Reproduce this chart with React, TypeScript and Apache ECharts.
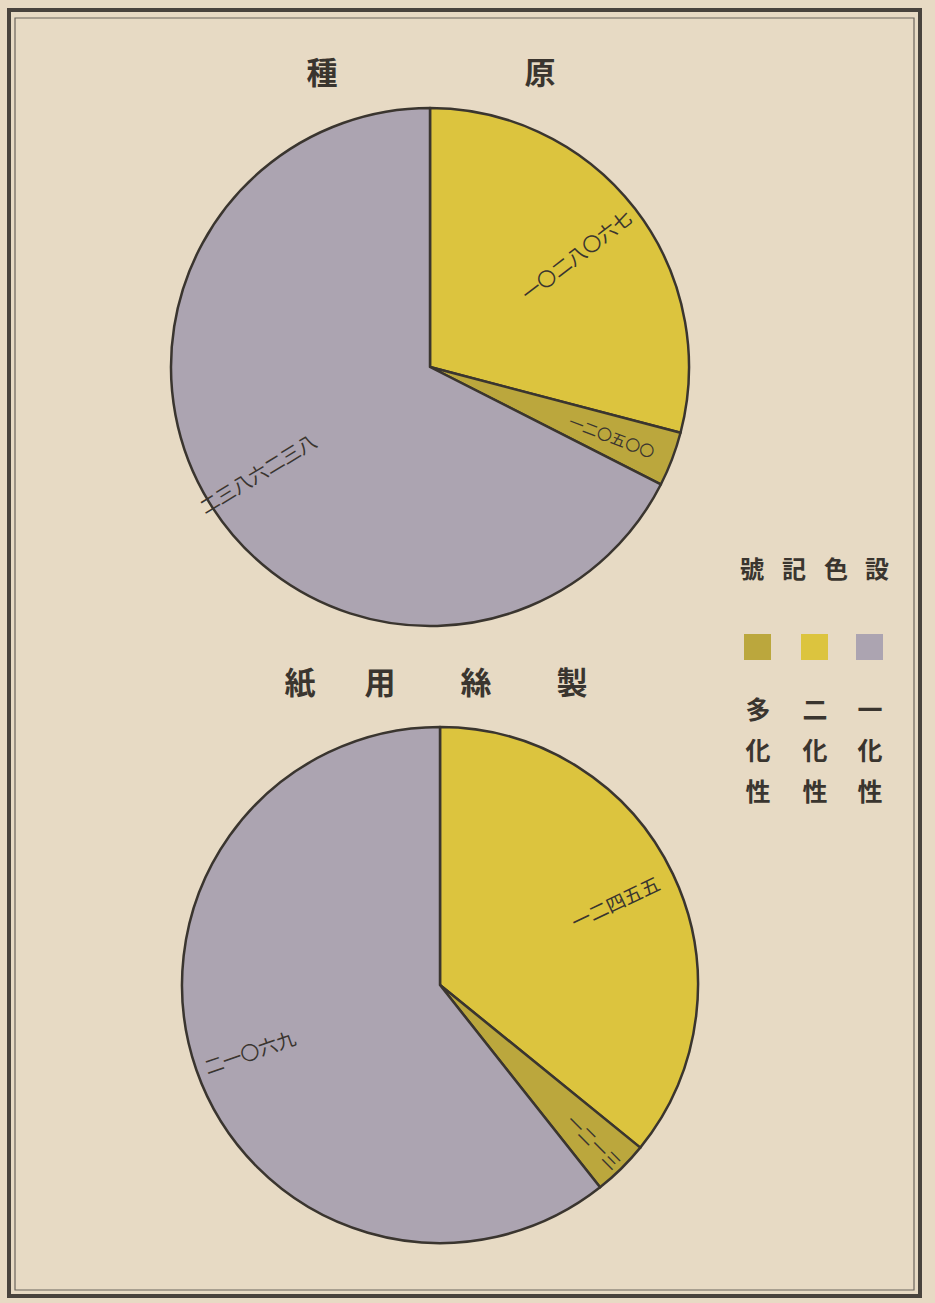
import React, { useEffect, useRef } from "react";
import * as echarts from "echarts";

// Series order: 二化性 (yellow), 多化性 (olive), 一化性 (grey) — clockwise from 12 o'clock
const categories = ["二化性", "多化性", "一化性"];
const topValues = [1028067, 120500, 2386238]; // 原種
const bottomValues = [12455, 1213, 21069]; // 製絲用紙
const topTitle = ["種", "原"];
const bottomTitle = ["紙", "用", "絲", "製"];
const legendTitle = ["號", "記", "色", "設"];
const legendCols = ["多化性", "二化性", "一化性"];

const PAPER = "#e7dac4";
const INK = "#3a352f";
const COLORS = ["#dcc43e", "#bba73d", "#aca4b1"];
const LEGEND_COLORS = ["#bba73d", "#dcc43e", "#aca4b1"];

const KANJI = ["〇", "一", "二", "三", "四", "五", "六", "七", "八", "九"];
const toKanji = (v: number) =>
  String(v)
    .split("")
    .map((d) => KANJI[Number(d)])
    .join("");

export default function App() {
  const ref = useRef<HTMLDivElement>(null);
  useEffect(() => {
    document.body.style.margin = "0";
    const chart = echarts.init(ref.current!, undefined, { renderer: "svg" });

    const mkPie = (
      values: number[],
      center: [number, number],
      r: number,
      labelRatio: number[],
      labelSize: number[]
    ) => {
      const data = values.map((v, i) => ({
        name: categories[i],
        value: v,
        itemStyle: { color: COLORS[i] },
      }));
      const base: any = {
        type: "pie",
        center,
        radius: [0, r],
        startAngle: 90,
        clockwise: true,
        silent: true,
        label: { show: false },
        labelLine: { show: false },
        itemStyle: { borderColor: INK, borderWidth: 2.5 },
        data,
      };
      const overlays = values.map((_, k) => {
        const inner = r * (2 * labelRatio[k] - 1);
        return {
          type: "pie",
          center,
          radius: [inner, r],
          startAngle: 90,
          clockwise: true,
          silent: true,
          labelLine: { show: false },
          itemStyle: { color: "rgba(0,0,0,0)", borderWidth: 0 },
          data: values.map((v, i) => ({
            name: categories[i],
            value: v,
            label: {
              show: i === k,
              position: "inside",
              rotate: "radial",
              formatter: () => toKanji(v),
              color: INK,
              fontSize: labelSize[i],
              fontFamily: "Noto Sans CJK JP",
            },
          })),
        };
      });
      return [base, ...overlays];
    };

    const titleText = (t: string, x: number, y: number, size = 30) => ({
      type: "text",
      x,
      y,
      style: {
        text: t,
        fill: INK,
        font: `bold ${size}px "Noto Sans CJK JP"`,
        textAlign: "center",
        textVerticalAlign: "middle",
      },
    });

    const graphics: any[] = [
      {
        type: "rect",
        shape: { x: 9, y: 10, width: 911, height: 1286 },
        style: { fill: "none", stroke: "#48433d", lineWidth: 4 },
      },
      {
        type: "rect",
        shape: { x: 15, y: 18, width: 899, height: 1272 },
        style: { fill: "none", stroke: "#6a645c", lineWidth: 1.2 },
      },
    ];
    const tx = [322, 540];
    topTitle.forEach((t, i) => graphics.push(titleText(t, tx[i], 70, 31)));
    const bx = [300, 380, 476, 572];
    bottomTitle.forEach((t, i) => graphics.push(titleText(t, bx[i], 680, 31)));
    const lx = [752, 794, 836, 877];
    legendTitle.forEach((t, i) => graphics.push(titleText(t, lx[i], 567, 24)));
    const cx = [758, 815, 870];
    legendCols.forEach((col, i) => {
      graphics.push({
        type: "rect",
        shape: { x: cx[i] - 14, y: 634, width: 27, height: 26 },
        style: { fill: LEGEND_COLORS[i] },
      });
      col.split("").forEach((ch, j) =>
        graphics.push(titleText(ch, cx[i], 708 + j * 41, 25))
      );
    });

    chart.setOption({
      animation: false,
      backgroundColor: PAPER,
      graphic: graphics,
      series: [
        ...mkPie(topValues, [430, 367], 259, [0.7, 0.74, 0.77], [19, 15, 19]),
        ...mkPie(bottomValues, [440, 985], 258, [0.74, 0.84, 0.77], [19, 17, 19]),
      ],
    });
    return () => chart.dispose();
  }, []);
  return (
    <div
      ref={ref}
      style={{ position: "absolute", left: 0, top: 0, width: 935, height: 1303 }}
    />
  );
}
